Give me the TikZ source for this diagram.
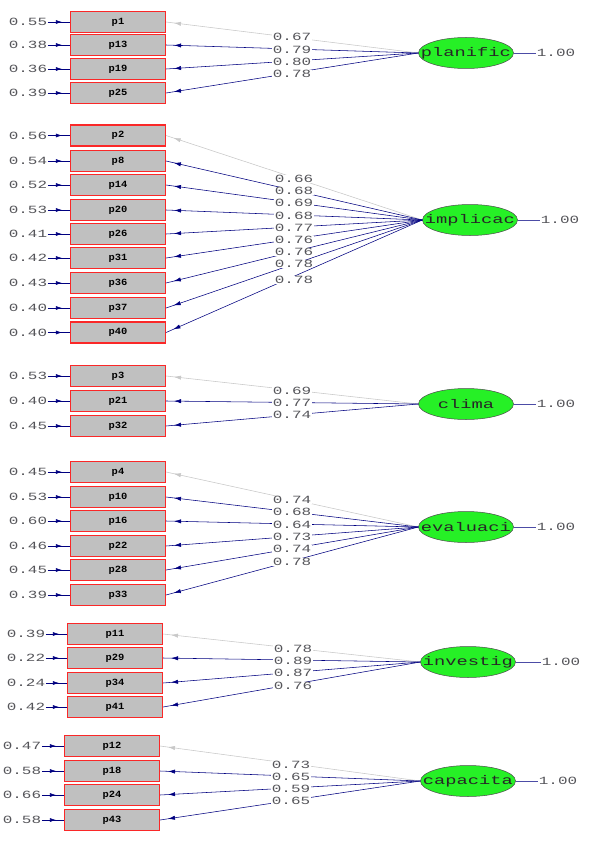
\documentclass[tikz,border=0pt]{standalone}
\usepackage{fontspec}
\usetikzlibrary{shapes.geometric,arrows.meta,decorations.markings}
\newfontfamily\lisnum[FakeStretch=1.45]{Liberation Mono}
\newfontfamily\lisbig[FakeStretch=1.5]{Liberation Mono}
\newfontfamily\lisbox[FakeStretch=1.1]{Liberation Mono}
\definecolor{navyl}{RGB}{0,0,128}
\definecolor{lgray}{RGB}{200,200,200}
\definecolor{boxgray}{RGB}{192,192,192}
\definecolor{boxred}{RGB}{250,40,40}
\definecolor{latgreen}{RGB}{38,240,38}
\definecolor{numgray}{RGB}{85,85,90}
\tikzset{
  obs/.style={draw=boxred, line width=1.1pt, fill=boxgray, minimum width=95pt, minimum height=21pt, inner sep=0pt, font=\lisbox\bfseries\fontsize{9.5}{10}\selectfont},
  lat/.style={ellipse, draw=black!70, line width=0.5pt, fill=latgreen, minimum width=95pt, minimum height=31pt, inner sep=0pt},
  lattxt/.style={font=\lisbig\fontsize{12.5}{13}\selectfont, inner sep=0pt, text=black!85},
  num/.style={font=\lisnum\fontsize{11}{12}\selectfont, text=numgray, fill=white, inner sep=0.6pt},
  errnum/.style={font=\lisnum\fontsize{11}{12}\selectfont, text=numgray, inner sep=0.6pt},
  load/.style={line width=0.55pt, decoration={markings, mark=at position -8pt with {\arrow{Latex[length=7pt,width=4.2pt]}}}, postaction={decorate}},
  errarr/.style={draw=navyl, line width=0.6pt, decoration={markings, mark=at position -8pt with {\arrow{Latex[length=6pt,width=4pt]}}}, postaction={decorate}},
  one/.style={draw=navyl!70, line width=0.6pt}
}
\begin{document}
\begin{tikzpicture}[x=1pt,y=-1pt]
\useasboundingbox (0,0) rectangle (594,843);
\fill[white] (0,0) rectangle (594,843);

% ---------- latent variables ----------
\node[lat] (planific) at (466,53) {};
\node[lattxt] at (planific) {planific};
\node[lat] (implicac) at (470,220) {};
\node[lattxt] at (implicac) {implicac};
\node[lat] (clima) at (466,404) {};
\node[lattxt] at (clima) {clima};
\node[lat] (evaluaci) at (466,527) {};
\node[lattxt] at (evaluaci) {evaluaci};
\node[lat] (investig) at (468,662) {};
\node[lattxt] at (investig) {investig};
\node[lat] (capacita) at (468,781) {};
\node[lattxt] at (capacita) {capacita};

% variances of latent variables
\foreach \lv/\xx in {planific/556,implicac/560,clima/556,evaluaci/556,investig/561,capacita/558}{
  \node[errnum] (v\lv) at (\xx, 0 |- \lv) {1.00};
  \draw[one] (\lv.east) -- (v\lv.west);
}

% ---------- group 1 ----------
\foreach \n/\y/\e/\l/\ly/\c in {1/22/0.55/0.67/37/lgray, 13/45/0.38/0.79/50/navyl, 19/69/0.36/0.80/62/navyl, 25/93/0.39/0.78/74/navyl}{
  \node[obs] (p\n) at (118,\y) {p\n};
  \node[errnum] (e\n) at (28,\y) {\e};
  \draw[errarr] (e\n.east) -- (p\n.west);
  \draw[load, draw=\c] (planific.west) -- (p\n.east);
  \node[num] (l\n) at (292,\ly) {\l};
}

% ---------- group 2 ----------
\foreach \n/\y/\e/\l/\ly/\c in {2/135.5/0.56/0.66/179/lgray, 8/161/0.54/0.68/191/navyl, 14/185/0.52/0.69/203/navyl, 20/210/0.53/0.68/216/navyl, 26/234/0.41/0.77/228/navyl, 31/258/0.42/0.76/240/navyl, 36/283/0.43/0.76/252/navyl, 37/308/0.40/0.78/264/navyl, 40/332.5/0.40/0.78/280/navyl}{
  \node[obs] (p\n) at (118,\y) {p\n};
  \node[errnum] (e\n) at (28,\y) {\e};
  \draw[errarr] (e\n.east) -- (p\n.west);
  \draw[load, draw=\c] (implicac.west) -- (p\n.east);
  \node[num] (l\n) at (294,\ly) {\l};
}

% ---------- group 3 ----------
\foreach \n/\y/\e/\l/\ly/\c in {3/376/0.53/0.69/391/lgray, 21/401/0.40/0.77/403/navyl, 32/426/0.45/0.74/415/navyl}{
  \node[obs] (p\n) at (118,\y) {p\n};
  \node[errnum] (e\n) at (28,\y) {\e};
  \draw[errarr] (e\n.east) -- (p\n.west);
  \draw[load, draw=\c] (clima.west) -- (p\n.east);
  \node[num] (l\n) at (292,\ly) {\l};
}

% ---------- group 4 ----------
\foreach \n/\y/\e/\l/\ly/\c in {4/472/0.45/0.74/500/lgray, 10/497/0.53/0.68/512/navyl, 16/521/0.60/0.64/525/navyl, 22/546/0.46/0.73/537/navyl, 28/570/0.45/0.74/549/navyl, 33/595/0.39/0.78/562/navyl}{
  \node[obs] (p\n) at (118,\y) {p\n};
  \node[errnum] (e\n) at (28,\y) {\e};
  \draw[errarr] (e\n.east) -- (p\n.west);
  \draw[load, draw=\c] (evaluaci.west) -- (p\n.east);
  \node[num] (l\n) at (292,\ly) {\l};
}

% ---------- group 5 ----------
\foreach \n/\y/\e/\l/\ly/\c in {11/634/0.39/0.78/649/lgray, 29/658/0.22/0.89/661/navyl, 34/683/0.24/0.87/673/navyl, 41/707/0.42/0.76/686/navyl}{
  \node[obs] (p\n) at (115,\y) {p\n};
  \node[errnum] (e\n) at (26,\y) {\e};
  \draw[errarr] (e\n.east) -- (p\n.west);
  \draw[load, draw=\c] (investig.west) -- (p\n.east);
  \node[num] (l\n) at (293,\ly) {\l};
}

% ---------- group 6 ----------
\foreach \n/\y/\e/\l/\ly/\c in {12/746/0.47/0.73/765/lgray, 18/771/0.58/0.65/777/navyl, 24/795/0.66/0.59/789/navyl, 43/820/0.58/0.65/801/navyl}{
  \node[obs] (p\n) at (112,\y) {p\n};
  \node[errnum] (e\n) at (22,\y) {\e};
  \draw[errarr] (e\n.east) -- (p\n.west);
  \draw[load, draw=\c] (capacita.west) -- (p\n.east);
  \node[num] (l\n) at (291,\ly) {\l};
}
\end{tikzpicture}
\end{document}
